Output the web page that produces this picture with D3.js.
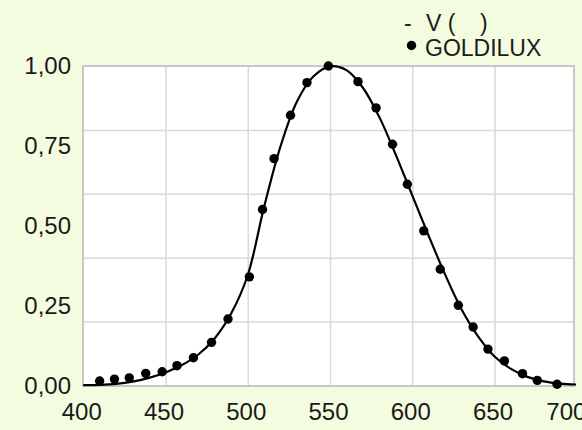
<!DOCTYPE html>
<meta charset="utf-8">
<style>
body{ margin:0; }
text{ font-family:"Liberation Sans", Arial, sans-serif; fill:#1a1a1a; }
.grid line{ stroke:#d9d9d9; stroke-width:1.5px; }
.grid path{ display:none; }
.lbl path, .lbl line{ display:none; }
</style>
<body>
<script src="https://d3js.org/d3.v7.min.js"></script>
<script>
// V(lambda) curve, every 10 nm
var curveNm = [400,410,420,430,440,450,460,470,480,490,500,510,520,530,540,550,560,570,580,590,600,610,620,630,640,650,660,670,680,690,700];
var curveV  = [0.001,0.002,0.005,0.012,0.024,0.041,0.064,0.097,0.148,0.226,0.345,0.56,0.75,0.89,0.968,0.999,0.987,0.932,0.84,0.722,0.595,0.468,0.347,0.238,0.154,0.091,0.052,0.027,0.013,0.006,0.003];

// GOLDILUX measured points
var dotNm = [410,419,428,438,448,457,467,478,488,501,509,516,526,536,549,567,578,588,597,607,617,628,637,646,656,667,676,688];
var dotV  = [0.014,0.020,0.024,0.038,0.043,0.062,0.087,0.135,0.208,0.340,0.551,0.710,0.846,0.948,1.0,0.951,0.869,0.755,0.630,0.484,0.364,0.251,0.183,0.114,0.077,0.037,0.016,0.004];

var xTicks = [400,450,500,550,600,650,700];
var yTicks = [0,0.25,0.5,0.75,1];
var yGrid  = [0.2,0.4,0.6,0.8];

var W = 582, H = 430;
var pL = 83, pR = 574, pT = 66, pB = 386;

var svg = d3.select("body").append("svg").attr("width",W).attr("height",H);
svg.append("rect").attr("width",W).attr("height",H).attr("fill","#f4fce0");

var x = d3.scaleLinear().domain([400,700]).range([83.2,576.8]);
var y = d3.scaleLinear().domain([0,1]).range([385.5,66]);

// plot area
svg.append("rect").attr("x",pL).attr("y",pT)
    .attr("width",pR-pL).attr("height",pB-pT)
    .attr("fill","#fff");

svg.append("g").attr("class","grid")
    .attr("transform","translate(0,"+pB+")")
    .call(d3.axisBottom(x).tickValues([450,500,550,600,650]).tickSize(-(pB-pT)).tickFormat(""));
svg.append("g").attr("class","grid")
    .attr("transform","translate("+pL+",0)")
    .call(d3.axisLeft(y).tickValues(yGrid).tickSize(-(pR-pL)).tickFormat(""));

svg.append("rect").attr("x",pL).attr("y",pT)
    .attr("width",pR-pL).attr("height",pB-pT)
    .attr("fill","none").attr("stroke","#c8c8c8").attr("stroke-width",2);

// labels
var yAx = svg.append("g").attr("class","lbl")
    .attr("transform","translate(71,0)")
    .call(d3.axisLeft(y).tickValues(yTicks).tickSize(0).tickPadding(0)
        .tickFormat(function(d){ return d3.format(".2f")(d).replace(".",","); }));
yAx.selectAll("text").attr("font-size",24).attr("fill","#1a1a1a")
    .style("font-family","'Liberation Sans', Arial, sans-serif");

var xAx = svg.append("g").attr("class","lbl")
    .attr("transform","translate(-2,403)")
    .call(d3.axisBottom(x).tickValues(xTicks).tickSize(0).tickPadding(0).tickFormat(d3.format("d")));
xAx.selectAll("text").attr("font-size",24).attr("fill","#1a1a1a")
    .style("font-family","'Liberation Sans', Arial, sans-serif");
// last label squeezed in against the edge, as in the original
xAx.selectAll(".tick").filter(function(d){ return d === 700; })
    .select("text").attr("dx",-9);

// curve
svg.append("clipPath").attr("id","clip").append("rect")
    .attr("x",78).attr("y",40).attr("width",498).attr("height",360);

var line = d3.line()
    .x(function(d,i){ return x(curveNm[i]); })
    .y(function(d){ return y(d); })
    .curve(d3.curveCatmullRom);

svg.append("path").datum(curveV)
    .attr("d",line)
    .attr("clip-path","url(#clip)")
    .attr("fill","none").attr("stroke","#000").attr("stroke-width",2.2);

svg.selectAll(".dot").data(dotV).enter().append("circle")
    .attr("class","dot")
    .attr("cx",function(d,i){ return x(dotNm[i]); })
    .attr("cy",function(d){ return y(d); })
    .attr("r",4.7).attr("fill","#000");

// legend
var lg = svg.append("g").attr("font-size",23);
lg.append("text").attr("x",404).attr("y",31).text("-");
lg.append("text").attr("x",426).attr("y",31).text("V (");
lg.append("text").attr("x",480).attr("y",31).text(")");
lg.append("circle").attr("cx",411.5).attr("cy",45.5).attr("r",4.7).attr("fill","#000");
lg.append("text").attr("x",425).attr("y",56).text("GOLDILUX");
</script>
</body>
